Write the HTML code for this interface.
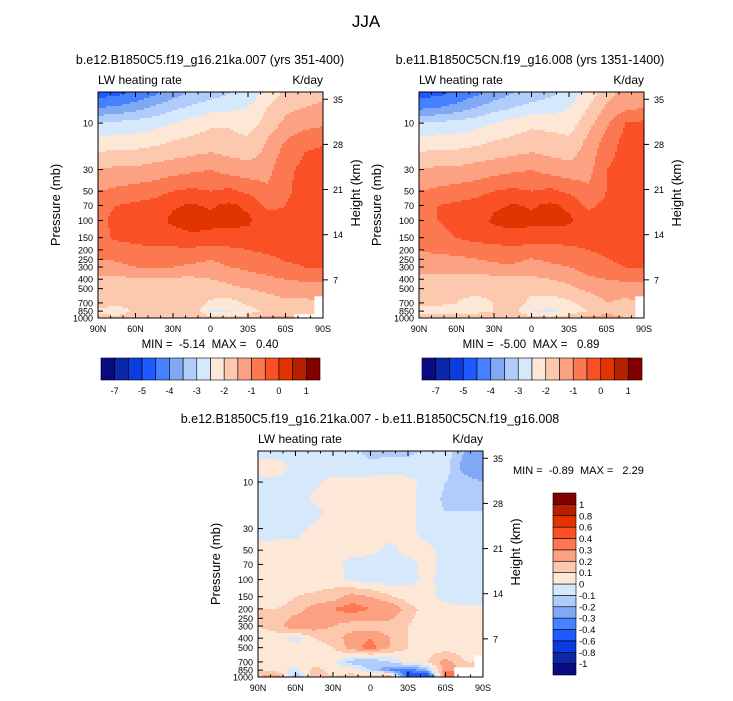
<!DOCTYPE html>
<html><head><meta charset="utf-8">
<style>
body{margin:0;background:#fff;}
svg{display:block;font-family:"Liberation Sans",Arial,sans-serif;}
text{white-space:pre;}
</style></head>
<body>
<svg id="fig" width="733" height="701" viewBox="0 0 733 701" xmlns="http://www.w3.org/2000/svg">
<text x="366" y="27" font-size="17" text-anchor="middle">JJA</text>
</svg>
<script>
// ---- data ----
const lats = [90,75,60,45,30,15,0,-15,-30,-45,-60,-75,-90];
const pressures = [5,7,10,15,20,30,50,70,100,150,200,300,400,500,700,850,1000];
const absLevels = [-7,-6,-5,-4.5,-4,-3.5,-3,-2.5,-2,-1.5,-1,-0.5,0,0.5,1];
const absLabels = ["-7","-5","-4","-3","-2","-1","0","1"];
const diffLevels = [-1,-0.8,-0.6,-0.4,-0.3,-0.2,-0.1,0,0.1,0.2,0.3,0.4,0.6,0.8,1];
const diffLabels = ["-1","-0.8","-0.6","-0.4","-0.3","-0.2","-0.1","0","0.1","0.2","0.3","0.4","0.6","0.8","1"];
const pTicks = [10,30,50,70,100,150,200,250,300,400,500,700,850,1000];
const hTicks = [7,14,21,28,35];
const latTicks = [90,60,30,0,-30,-60,-90];
const latTickLabels = ["90N","60N","30N","0","30S","60S","90S"];
const palette = ['#0a0a82','#0a28a8','#0a3ce0','#1e5aff','#4682ff','#80a8f4','#b0ccfa','#d6e8fc','#fde8d8','#fcc8ae','#fca282','#fc7850','#fa5026','#e23400','#b42000','#840000'];

const fieldA = [
[-4.7,-4.6,-4.4,-4.1,-3.7,-3.4,-3.2,-3.0,-2.8,-2.3,-1.9,-1.7,-1.6],
[-4.0,-3.9,-3.7,-3.4,-3.1,-2.9,-2.7,-2.6,-2.5,-2.0,-1.6,-1.5,-1.4],
[-3.0,-2.9,-2.8,-2.7,-2.5,-2.3,-2.1,-2.1,-2.3,-1.8,-1.4,-1.2,-1.1],
[-2.4,-2.3,-2.3,-2.2,-2.0,-1.9,-1.8,-1.8,-1.9,-1.5,-1.0,-0.7,-0.6],
[-2.0,-1.9,-1.9,-1.8,-1.7,-1.6,-1.5,-1.6,-1.7,-1.4,-0.8,-0.5,-0.4],
[-1.5,-1.4,-1.4,-1.3,-1.2,-1.1,-1.0,-1.2,-1.3,-1.2,-0.6,-0.4,-0.3],
[-1.0,-0.9,-0.8,-0.7,-0.5,-0.4,-0.5,-0.4,-0.6,-0.9,-0.6,-0.3,-0.3],
[-0.6,-0.5,-0.4,-0.3,-0.05,0.05,-0.05,0.1,-0.1,-0.6,-0.5,-0.3,-0.3],
[-0.6,-0.4,-0.3,-0.2,0.1,0.2,0.1,0.15,0.1,-0.3,-0.4,-0.3,-0.3],
[-0.7,-0.4,-0.3,-0.2,-0.2,-0.1,-0.1,-0.2,-0.2,-0.3,-0.3,-0.3,-0.3],
[-0.9,-0.8,-0.7,-0.6,-0.6,-0.6,-0.7,-0.6,-0.5,-0.4,-0.3,-0.3,-0.3],
[-1.1,-1.1,-1.0,-1.0,-1.0,-1.1,-1.2,-1.0,-0.9,-0.8,-0.6,-0.5,-0.5],
[-1.6,-1.6,-1.6,-1.6,-1.6,-1.6,-1.5,-1.4,-1.2,-1.1,-1.0,-0.9,-0.9],
[-1.7,-1.8,-1.8,-1.8,-1.8,-1.7,-1.7,-1.6,-1.5,-1.4,-1.3,-1.3,-1.3],
[-1.8,-1.9,-1.9,-1.9,-1.9,-1.6,-2.1,-2.2,-1.9,-1.7,-1.6,-1.6,null],
[-2.1,-2.2,-1.9,-1.8,-2.0,-1.6,-2.6,-2.6,-2.2,-1.9,-1.7,-1.6,null],
[-1.8,-1.9,-1.8,-1.8,-1.7,-1.6,-1.8,-1.9,-1.8,-1.2,-1.4,null,null]
];
const fieldB = [
[-4.7,-4.6,-4.4,-4.1,-3.8,-3.5,-3.3,-3.1,-2.8,-2.3,-1.7,-1.3,-1.2],
[-4.1,-4.0,-3.8,-3.5,-3.2,-3.0,-2.8,-2.7,-2.5,-2.0,-1.4,-1.1,-1.0],
[-3.0,-2.9,-2.8,-2.7,-2.5,-2.3,-2.1,-2.2,-2.3,-1.7,-1.1,-0.5,-0.4],
[-2.4,-2.3,-2.3,-2.2,-2.0,-1.9,-1.8,-1.8,-1.9,-1.4,-0.8,-0.35,-0.3],
[-2.0,-1.9,-1.9,-1.8,-1.7,-1.6,-1.5,-1.6,-1.7,-1.3,-0.7,-0.3,-0.3],
[-1.5,-1.4,-1.4,-1.3,-1.2,-1.1,-1.0,-1.2,-1.3,-1.2,-0.5,-0.3,-0.3],
[-1.0,-0.9,-0.8,-0.7,-0.5,-0.4,-0.5,-0.4,-0.6,-0.9,-0.5,-0.3,-0.3],
[-0.6,-0.5,-0.4,-0.3,-0.1,0.05,-0.05,0.1,-0.1,-0.6,-0.4,-0.3,-0.3],
[-0.7,-0.5,-0.4,-0.3,0.1,0.2,0.1,0.15,0.1,-0.3,-0.35,-0.3,-0.3],
[-0.7,-0.6,-0.5,-0.3,-0.3,-0.2,-0.2,-0.3,-0.3,-0.3,-0.3,-0.3,-0.3],
[-1.0,-0.9,-0.9,-0.8,-0.7,-0.6,-0.8,-0.7,-0.6,-0.5,-0.4,-0.35,-0.35],
[-1.3,-1.3,-1.2,-1.2,-1.1,-1.1,-1.2,-1.1,-1.0,-0.8,-0.6,-0.5,-0.5],
[-1.6,-1.7,-1.7,-1.7,-1.7,-1.7,-1.6,-1.5,-1.4,-1.1,-1.0,-0.9,-0.9],
[-1.8,-1.9,-1.9,-1.9,-1.9,-1.8,-1.8,-1.7,-1.6,-1.4,-1.3,-1.3,-1.3],
[-1.9,-1.9,-2.0,-2.1,-2.0,-1.6,-2.2,-2.3,-2.1,-1.8,-1.5,-1.6,null],
[-2.1,-2.2,-2.2,-2.1,-2.0,-1.8,-2.5,-2.6,-2.3,-2.0,-1.7,-1.6,null],
[-1.8,-1.6,-1.8,-1.8,-1.8,-1.7,-1.8,-1.9,-1.8,-1.2,-1.3,-1.5,null]
];
const fieldD = [
[-0.05,-0.05,-0.05,-0.05,-0.05,-0.08,-0.12,-0.12,-0.12,-0.08,-0.05,-0.2,-0.25],
[0.05,0.05,-0.03,-0.03,-0.05,-0.05,-0.08,-0.05,-0.05,-0.03,-0.05,-0.25,-0.3],
[-0.03,-0.03,-0.03,-0.02,0.03,0.03,0.05,0.05,0.03,-0.03,-0.1,-0.15,-0.2],
[-0.05,-0.05,-0.05,0.02,0.03,0.05,0.05,0.05,0.03,-0.05,-0.12,-0.15,-0.15],
[-0.05,-0.05,-0.05,-0.03,0.03,0.05,0.05,0.05,0.03,-0.05,-0.1,-0.1,-0.1],
[-0.05,-0.03,-0.03,0.02,0.03,0.05,0.05,0.05,0.03,-0.05,-0.08,-0.05,-0.05],
[0.03,0.03,0.03,0.03,0.03,0.03,0.03,-0.03,0.03,0.03,-0.03,-0.05,-0.05],
[0.03,0.03,0.03,0.03,0.03,-0.03,-0.05,-0.05,-0.03,0.03,-0.03,-0.05,-0.05],
[0.03,0.05,0.05,0.05,0.05,-0.03,-0.05,-0.05,-0.03,0.02,-0.03,-0.05,-0.05],
[0.05,0.03,0.1,0.12,0.15,0.25,0.2,0.12,0.05,0.03,-0.03,-0.05,-0.05],
[0.1,0.1,0.15,0.25,0.3,0.35,0.3,0.3,0.15,0.05,0.03,0.02,0.02],
[0.1,0.15,0.3,0.25,0.2,0.15,0.15,0.15,0.1,0.05,0.05,0.03,0.03],
[0.05,0.05,-0.05,0.1,0.15,0.25,0.3,0.2,0.1,0.05,0.1,0.05,0.05],
[0.03,0.05,0.05,0.05,0.1,0.25,0.35,0.2,0.1,0.05,0.05,0.05,0.05],
[0.03,0.05,0.05,0.05,0.03,-0.15,-0.2,-0.1,0.03,0.1,0.25,0.1,null],
[0.1,0.05,-0.05,0.15,0.05,0.05,-0.1,-0.3,-0.4,-0.2,0.3,null,null],
[0.2,0.3,-0.2,0.2,0.1,0.15,0.2,0.3,-0.5,-0.6,0.4,null,null]
];

const NS='http://www.w3.org/2000/svg';
const svg=document.getElementById('fig');
const PTOP=4.8;
function mk(tag,attrs,parent){const e=document.createElementNS(NS,tag);for(const k in attrs)e.setAttribute(k,attrs[k]);(parent||svg).appendChild(e);return e;}
function txt(x,y,s,size,anchor,parent,extra){const t=mk('text',Object.assign({x:x,y:y,'font-size':size,'text-anchor':anchor||'start'},extra||{}),parent);t.textContent=s;return t;}
function colorIdx(v,levels){let i=0;while(i<levels.length&&v>=levels[i])i++;return i;}
const lpTop=Math.log10(PTOP), lpRange=3-lpTop;
const logP=pressures.map(p=>Math.log10(p));

function sample(field,c,lp){
  let r=0;while(r<logP.length-2&&lp>logP[r+1])r++;
  let fr=(lp-logP[r])/(logP[r+1]-logP[r]);fr=Math.max(0,Math.min(1,fr));
  let c0=Math.min(Math.floor(c),lats.length-2);let fc=c-c0;
  const near=field[fr<0.5?r:r+1][fc<0.5?c0:c0+1];
  if(near===null)return null;
  const pts=[[field[r][c0],(1-fr)*(1-fc)],[field[r][c0+1],(1-fr)*fc],[field[r+1][c0],fr*(1-fc)],[field[r+1][c0+1],fr*fc]];
  let s=0,w=0;pts.forEach(p=>{if(p[0]!==null){s+=p[0]*p[1];w+=p[1];}});
  return w>0?s/w:null;
}

function panel(name,x0,y0,w,h,field,levels,title,titleX,ytitleLeft,ytitleRight){
  const g=mk('g',{});
  
  
  const xOf=lat=>x0+(90-lat)/180*w;
  const yOf=p=>y0+(Math.log10(p)-lpTop)/lpRange*h;
  const yH=z=>y0+h*(233-6.45*z)/226;
  const cells=mk('g',{},g);
  
  
  const step=2;
  for(let py=0;py<h;py+=step){
    const lp=lpTop+(py+step/2)/h*lpRange;
    let runStart=0,runCol=null;
    const flush=(end)=>{if(runCol!==null){const r=mk('rect',{x:x0+runStart,y:y0+py,width:end-runStart+0.3,height:Math.min(step,h-py)+0.3,fill:runCol},cells);
      
      }};
    for(let px=0;px<w;px+=step){
      const lat=90-(px+step/2)/w*180;
      const v=sample(field,(90-lat)/15,lp);
      const col=v===null?null:palette[colorIdx(v,levels)];
      if(col!==runCol){flush(px);runStart=px;runCol=col;}
    }
    flush(w);
  }
  const fr=mk('rect',{x:x0,y:y0,width:w,height:h,fill:'none',stroke:'#000','stroke-width':1},g);
  
  
  latTicks.forEach((lt,i)=>{const x=xOf(lt);
    mk('line',{x1:x,y1:y0+h,x2:x,y2:y0+h-5,stroke:'#000'},g);
    mk('line',{x1:x,y1:y0,x2:x,y2:y0+5,stroke:'#000'},g);
    const t=txt(x,y0+h+14,latTickLabels[i],9,'middle',g);
    
    });
  for(let lt=80;lt>-90;lt-=10){if(lt%30===0)continue;const x=xOf(lt);
    mk('line',{x1:x,y1:y0+h,x2:x,y2:y0+h-2.5,stroke:'#000'},g);mk('line',{x1:x,y1:y0,x2:x,y2:y0+2.5,stroke:'#000'},g);}
  pTicks.forEach(p=>{const y=yOf(p);
    mk('line',{x1:x0,y1:y,x2:x0+5,y2:y,stroke:'#000'},g);
    const t=txt(x0-5,y+3.5,String(p),9,'end',g);
    
    });
  hTicks.forEach(z=>{const y=yH(z);
    mk('line',{x1:x0+w,y1:y,x2:x0+w+5,y2:y,stroke:'#000'},g);
    const t=txt(x0+w+10,y+3.5,String(z),9,'start',g);
    
    });
  const tt=txt(titleX,y0-28,title,12.5,'middle',g);
  
  
  const lw=txt(x0,y0-8,'LW heating rate',12,'start',g);
  
  
  const un=txt(x0+w,y0-8,'K/day',12,'end',g);
  
  
  const yl=txt(0,0,'Pressure (mb)',13,'middle',g,{transform:`translate(${ytitleLeft},${y0+h/2}) rotate(-90)`});
  
  
  const yr=txt(0,0,'Height (km)',13,'middle',g,{transform:`translate(${ytitleRight},${y0+h/2-12}) rotate(-90)`});
  
  
}

function hColorbar(name,x0,y0,w,h,levels,labels){
  const g=mk('g',{});
  
  
  const n=palette.length,bw=w/n;
  palette.forEach((c,i)=>{const r=mk('rect',{x:x0+i*bw,y:y0,width:bw,height:h,fill:c,stroke:'#000','stroke-width':0.6},g);
    
    });
  const labelLevels=[-7,-5,-4,-3,-2,-1,0,1];
  labelLevels.forEach((lv,i)=>{const k=levels.indexOf(lv)+1;
    const t=txt(x0+k*bw,y0+h+14,labels[i],9,'middle',g);
    
    });
}
function vColorbar(name,x0,y0,w,h,levels,labels){
  const g=mk('g',{});
  
  
  const n=palette.length,bh=h/n;
  palette.forEach((c,i)=>{const r=mk('rect',{x:x0,y:y0+h-(i+1)*bh,width:w,height:bh,fill:c,stroke:'#000','stroke-width':0.6},g);
    
    });
  levels.forEach((lv,i)=>{const t=txt(x0+w+3,y0+h-(i+1)*bh+3.5,labels[i],9.5,'start',g);
    
    });
}

panel('panel-21ka',98,92,225,226,fieldA,absLevels,'b.e12.B1850C5.f19_g16.21ka.007 (yrs 351-400)',210,60,360);
panel('panel-control',419,92,225,226,fieldB,absLevels,'b.e11.B1850C5CN.f19_g16.008 (yrs 1351-1400)',530,381,681);
panel('panel-difference',258,451,225,226,fieldD,diffLevels,'b.e12.B1850C5.f19_g16.21ka.007 - b.e11.B1850C5CN.f19_g16.008',370,220,520);

const m1=txt(210,348,'MIN =  -5.14  MAX =   0.40',11.5,'middle');


const m2=txt(531,348,'MIN =  -5.00  MAX =   0.89',11.5,'middle');


const m3=txt(513,474,'MIN =  -0.89  MAX =   2.29',11,'start');



hColorbar('colorbar-21ka',101,358,219,22,absLevels,absLabels);
hColorbar('colorbar-control',422,358,220,22,absLevels,absLabels);
vColorbar('colorbar-difference',553,493,23,182,diffLevels,diffLabels);
</script>
</body></html>
